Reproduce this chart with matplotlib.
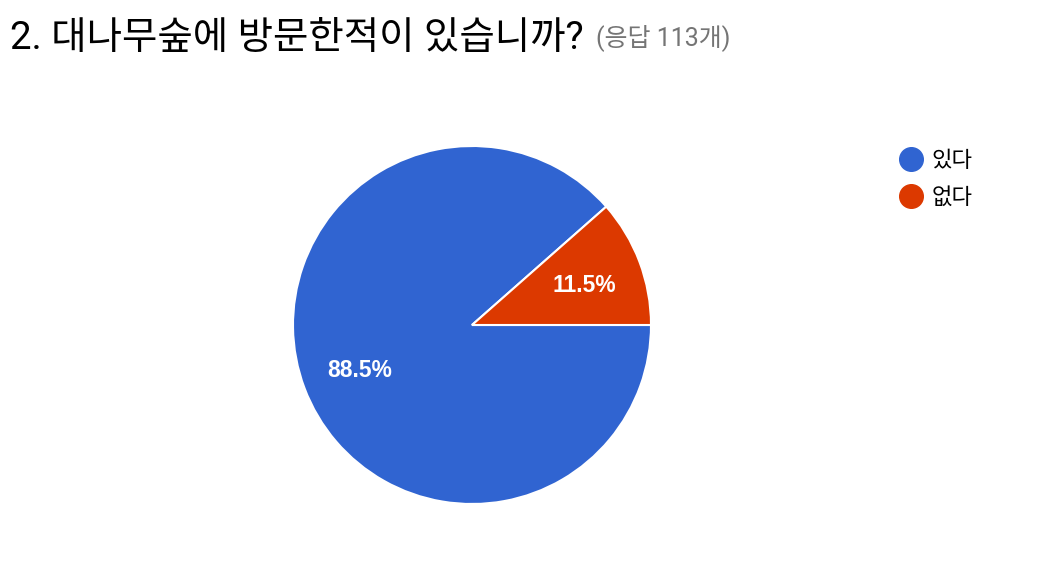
import matplotlib
matplotlib.use("Agg")
import matplotlib.pyplot as plt
from matplotlib.lines import Line2D

title = "2. 대나무숲에 방문한적이 있습니까?"
subtitle = "(응답 113개)"
labels = ["있다", "없다"]
values = [88.5, 11.5]
colors = ["#3064d1", "#dc3900"]

fam = ["Roboto", "Noto Sans CJK KR", "DejaVu Sans"]
plt.rcParams["font.family"] = fam

W, H = 1058, 564
fig = plt.figure(figsize=(W / 100, H / 100), dpi=100)
ax = fig.add_axes([0, 0, 1, 1])

wedges, texts, autotexts = ax.pie(
    values, colors=colors, startangle=0, counterclock=False,
    radius=179, center=(472, H - 325),
    autopct="%.1f%%", pctdistance=0.67,
    wedgeprops=dict(edgecolor="white", linewidth=1.5),
    textprops=dict(color="white", fontsize=16.5, fontweight="bold",
                   family=["Liberation Sans", "DejaVu Sans"]),
)
for t in autotexts:
    x, y = t.get_position()
    t.set_position((x, y - 3))
ax.set_xlim(0, W)
ax.set_ylim(0, H)
ax.set_aspect("equal")
ax.axis("off")

fig.text(10 / W, 1 - 38 / H, title, fontsize=27.7, color="#000000",
         va="center", ha="left", family=fam)
fig.text(596 / W, 1 - 38 / H, subtitle, fontsize=18, color="#757575",
         va="center", ha="left", family=fam)

handles = [Line2D([], [], marker="o", linestyle="none", markersize=17,
                  markerfacecolor=c, markeredgecolor=c) for c in colors]
leg = fig.legend(handles, labels, loc="upper left",
                 bbox_to_anchor=(879 / W, 1 - 131 / H), frameon=False,
                 handletextpad=0.35, labelspacing=0.72,
                 handlelength=1.1, prop=dict(family=fam, size=16))

fig.savefig("out.png", dpi=100, facecolor="white")
